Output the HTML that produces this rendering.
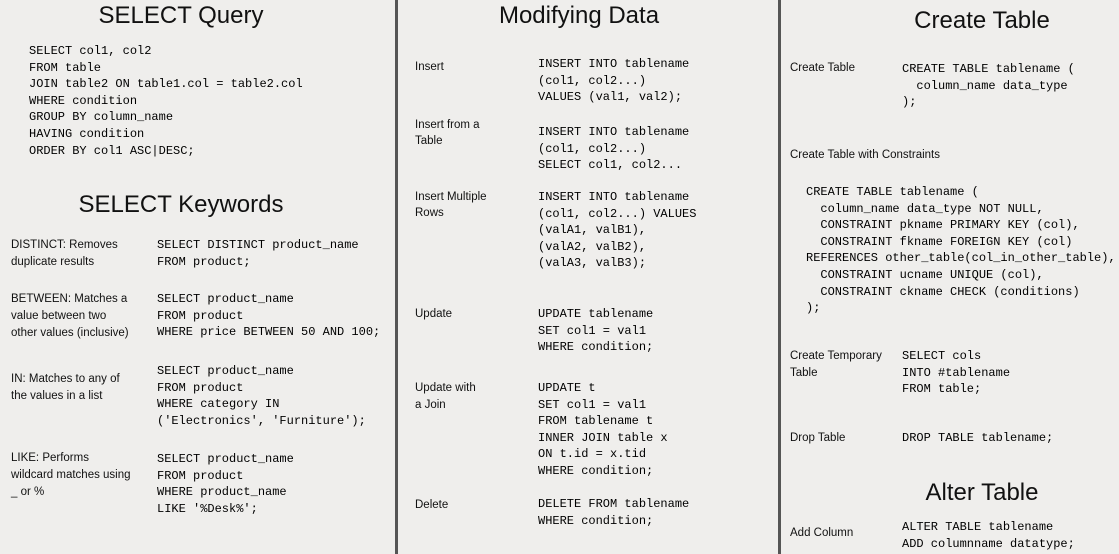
<!DOCTYPE html>
<html><head><meta charset="utf-8"><style>
body{margin:0;width:1119px;height:554px;background:#efeeec;position:relative;overflow:hidden;color:#111}
.d{position:absolute;top:0;height:554px;width:3px;background:#555}
.t{position:absolute;font-family:"Liberation Sans",sans-serif;font-size:24px;line-height:30px;transform:translateX(-50%);white-space:nowrap}
.c{position:absolute;font-family:"Liberation Mono",monospace;font-size:12px;line-height:16.6px;white-space:pre;color:#000}
.l{position:absolute;font-family:"Liberation Sans",sans-serif;font-size:11.5px;line-height:17px;white-space:pre}
</style></head><body>
<div class="d" style="left:395px"></div>
<div class="d" style="left:778px"></div>

<div class="t" style="left:181px;top:1px">SELECT Query</div>
<div class="c" style="left:29px;top:43px">SELECT col1, col2
FROM table
JOIN table2 ON table1.col = table2.col
WHERE condition
GROUP BY column_name
HAVING condition
ORDER BY col1 ASC|DESC;</div>
<div class="t" style="left:181px;top:190px">SELECT Keywords</div>
<div class="l" style="left:11px;top:237px">DISTINCT: Removes
duplicate results</div>
<div class="c" style="left:157px;top:237px">SELECT DISTINCT product_name
FROM product;</div>
<div class="l" style="left:11px;top:291px">BETWEEN: Matches a
value between two
other values (inclusive)</div>
<div class="c" style="left:157px;top:291px">SELECT product_name
FROM product
WHERE price BETWEEN 50 AND 100;</div>
<div class="l" style="left:11px;top:371px">IN: Matches to any of
the values in a list</div>
<div class="c" style="left:157px;top:363px">SELECT product_name
FROM product
WHERE category IN
('Electronics', 'Furniture');</div>
<div class="l" style="left:11px;top:450px">LIKE: Performs
wildcard matches using
_ or %</div>
<div class="c" style="left:157px;top:451px">SELECT product_name
FROM product
WHERE product_name
LIKE '%Desk%';</div>

<div class="t" style="left:579px;top:1px">Modifying Data</div>
<div class="l" style="left:415px;top:59px">Insert</div>
<div class="c" style="left:538px;top:56px">INSERT INTO tablename
(col1, col2...)
VALUES (val1, val2);</div>
<div class="l" style="left:415px;top:117px;line-height:16px">Insert from a
Table</div>
<div class="c" style="left:538px;top:124px">INSERT INTO tablename
(col1, col2...)
SELECT col1, col2...</div>
<div class="l" style="left:415px;top:189px;line-height:16px">Insert Multiple
Rows</div>
<div class="c" style="left:538px;top:189px">INSERT INTO tablename
(col1, col2...) VALUES
(valA1, valB1),
(valA2, valB2),
(valA3, valB3);</div>
<div class="l" style="left:415px;top:306px">Update</div>
<div class="c" style="left:538px;top:306px">UPDATE tablename
SET col1 = val1
WHERE condition;</div>
<div class="l" style="left:415px;top:380px">Update with
a Join</div>
<div class="c" style="left:538px;top:380px">UPDATE t
SET col1 = val1
FROM tablename t
INNER JOIN table x
ON t.id = x.tid
WHERE condition;</div>
<div class="l" style="left:415px;top:497px">Delete</div>
<div class="c" style="left:538px;top:496px">DELETE FROM tablename
WHERE condition;</div>

<div class="t" style="left:982px;top:6px">Create Table</div>
<div class="l" style="left:790px;top:60px">Create Table</div>
<div class="c" style="left:902px;top:61px">CREATE TABLE tablename (
  column_name data_type
);</div>
<div class="l" style="left:790px;top:147px">Create Table with Constraints</div>
<div class="c" style="left:806px;top:184px">CREATE TABLE tablename (
  column_name data_type NOT NULL,
  CONSTRAINT pkname PRIMARY KEY (col),
  CONSTRAINT fkname FOREIGN KEY (col)
REFERENCES other_table(col_in_other_table),
  CONSTRAINT ucname UNIQUE (col),
  CONSTRAINT ckname CHECK (conditions)
);</div>
<div class="l" style="left:790px;top:348px">Create Temporary
Table</div>
<div class="c" style="left:902px;top:348px">SELECT cols
INTO #tablename
FROM table;</div>
<div class="l" style="left:790px;top:430px">Drop Table</div>
<div class="c" style="left:902px;top:430px">DROP TABLE tablename;</div>
<div class="t" style="left:982px;top:478px">Alter Table</div>
<div class="l" style="left:790px;top:525px">Add Column</div>
<div class="c" style="left:902px;top:519px">ALTER TABLE tablename
ADD columnname datatype;</div>
</body></html>
